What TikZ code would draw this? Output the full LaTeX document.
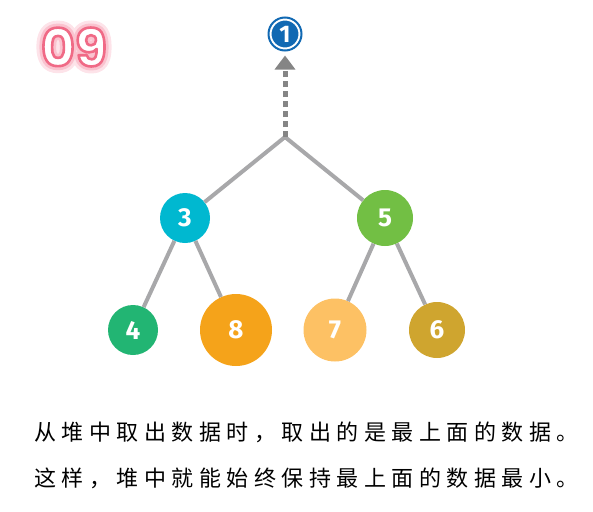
\documentclass[tikz,border=0pt]{standalone}
\usepackage{fontspec}
\usetikzlibrary{arrows.meta}
\newfontfamily\cjk{Noto Sans CJK SC}[LetterSpace=25]
\newfontfamily\numfont{Fira Sans}
\newfontfamily\titlefont{Poppins}
\definecolor{heapblue}{HTML}{1169B3}
\definecolor{heapcyan}{HTML}{00B8D0}
\definecolor{heapgreen}{HTML}{72BF44}
\definecolor{heapteal}{HTML}{22B573}
\definecolor{heaporange}{HTML}{F5A31A}
\definecolor{heaplight}{HTML}{FDC164}
\definecolor{heapolive}{HTML}{CFA52F}
\definecolor{edgegray}{HTML}{A8A8AA}
\definecolor{arrowgray}{HTML}{858585}
% outlined text: fill colour, then stroke width and stroke rgb
\newcommand\strokedtext[4]{{\color{#1}\special{pdf:code 2 Tr #2 w 1 j #3 RG}#4\special{pdf:code 0 Tr}}}
\tikzset{
  ball/.style={circle, inner sep=0pt, text=white, font=\numfont\bfseries\fontsize{26}{26}\selectfont},
  link/.style={edgegray, line width=4pt},
  titletext/.style={inner sep=0pt, font=\titlefont\bfseries\fontsize{52}{52}\selectfont}
}
\begin{document}
\begin{tikzpicture}[x=1pt,y=-1pt]
\useasboundingbox (0,0) rectangle (593,511);
% title with glow
\node[titletext] (glow) at (74,47) {\strokedtext{white}{14}{0.992 0.890 0.914}{09}};
\node[titletext] (glow2) at (74,47) {\strokedtext{white}{8}{0.980 0.765 0.812}{09}};
\node[titletext] (title) at (74,47) {\strokedtext{white}{2.6}{0.941 0.416 0.525}{09}};
% nodes
\node[ball, fill=heapblue, draw=white, line width=2pt, minimum size=29pt] (n1) at (285,34) {\fontsize{24}{24}\selectfont 1};
\draw[heapblue, line width=2pt] (n1.center) circle (16.5);
\node[ball, fill=heapcyan, minimum size=50pt] (n3) at (185,218) {3};
\node[ball, fill=heapgreen, minimum size=56pt] (n5) at (385,218) {5};
\node[ball, fill=heapteal, minimum size=50pt] (n4) at (133,330) {4};
\node[ball, fill=heaporange, minimum size=72pt] (n8) at (236,330) {8};
\node[ball, fill=heaplight, minimum size=63pt] (n7) at (335,330) {7};
\node[ball, fill=heapolive, minimum size=56pt] (n6) at (437,330) {6};
\coordinate (top) at (285,137);
% edges
\draw[link] (top) -- (n3);
\draw[link] (top) -- (n5);
\draw[link] (n3) -- (n4);
\draw[link] (n3) -- (n8);
\draw[link] (n5) -- (n7);
\draw[link] (n5) -- (n6);
\draw[arrowgray, line width=5pt, dash pattern=on 6pt off 4pt, shorten >=6pt,
  -{Triangle[width=20pt,length=14pt]}] (top) -- (n1);
% text
\node[anchor=west, inner sep=0pt] (line1) at (34,432) {\cjk\fontsize{22}{22}\selectfont 从堆中取出数据时，取出的是最上面的数据。};
\node[anchor=west, inner sep=0pt] (line2) at (34,478) {\cjk\fontsize{22}{22}\selectfont 这样，堆中就能始终保持最上面的数据最小。};
\end{tikzpicture}
\end{document}
